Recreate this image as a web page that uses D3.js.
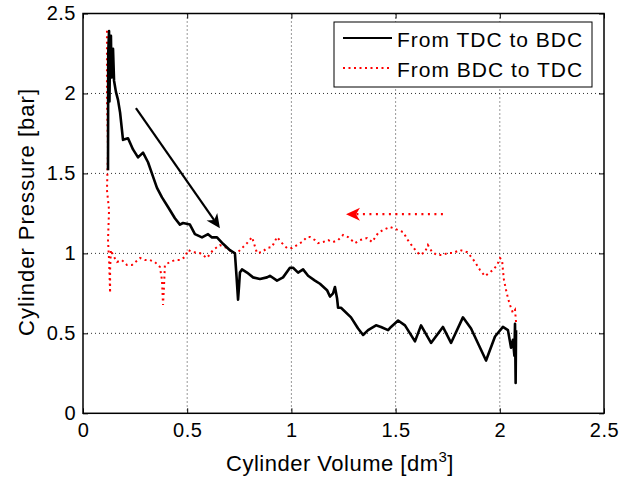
<!DOCTYPE html>
<html><head><meta charset="utf-8">
<script src="https://cdn.jsdelivr.net/npm/d3@7"></script>
<style>
html,body{margin:0;padding:0;background:#fff;}
svg text{font-family:"Liberation Sans",Arial,Helvetica,sans-serif;fill:#000;}
</style></head>
<body>
<svg id="c" width="637" height="483"></svg>
<script>
const xTicks = [0, 0.5, 1, 1.5, 2, 2.5];
const yTicks = [0, 0.5, 1, 1.5, 2, 2.5];
const seriesNames = ["From TDC to BDC", "From BDC to TDC"];
const xLabel = "Cylinder Volume [dm";
const yLabel = "Cylinder Pressure [bar]";

const tdcToBdcVolume = [0.120,0.121,0.125,0.127,0.130,0.134,0.137,0.140,0.144,0.149,0.158,0.168,0.178,0.192,0.216,0.240,0.264,0.288,0.312,0.336,0.355,0.379,0.408,0.441,0.465,0.480,0.513,0.537,0.571,0.600,0.619,0.643,0.672,0.705,0.729,0.737,0.744,0.749,0.753,0.763,0.787,0.816,0.849,0.883,0.897,0.931,0.960,0.993,1.008,1.032,1.056,1.080,1.113,1.137,1.171,1.185,1.200,1.209,1.219,1.224,1.238,1.286,1.320,1.344,1.368,1.406,1.430,1.464,1.478,1.512,1.545,1.593,1.622,1.670,1.727,1.766,1.823,1.862,1.934,1.977,2.015,2.039,2.054,2.063,2.070,2.073,2.076,2.078];
const tdcToBdcPressure = [1.52,2.25,2.39,1.95,2.30,2.36,2.10,2.21,2.28,2.08,2.01,1.96,1.88,1.71,1.72,1.65,1.60,1.63,1.57,1.48,1.41,1.35,1.29,1.22,1.18,1.19,1.18,1.12,1.10,1.12,1.10,1.10,1.06,1.02,1.00,0.85,0.71,0.80,0.88,0.90,0.88,0.85,0.84,0.85,0.86,0.83,0.85,0.91,0.91,0.88,0.90,0.86,0.83,0.81,0.77,0.73,0.75,0.79,0.72,0.66,0.66,0.60,0.53,0.49,0.52,0.55,0.54,0.52,0.54,0.58,0.55,0.45,0.55,0.44,0.54,0.44,0.60,0.53,0.33,0.48,0.54,0.52,0.41,0.46,0.36,0.56,0.19,0.52];

const bdcToTdcVolume = [2.078,2.073,2.063,2.049,2.039,2.030,2.020,2.015,2.011,2.001,1.987,1.967,1.929,1.905,1.881,1.867,1.843,1.809,1.775,1.751,1.723,1.699,1.675,1.655,1.641,1.617,1.603,1.583,1.559,1.536,1.512,1.488,1.473,1.440,1.416,1.387,1.363,1.329,1.305,1.272,1.248,1.224,1.200,1.176,1.152,1.128,1.113,1.089,1.075,1.051,1.027,1.003,0.979,0.955,0.931,0.907,0.883,0.859,0.835,0.811,0.787,0.763,0.739,0.720,0.691,0.657,0.624,0.595,0.561,0.528,0.504,0.489,0.465,0.441,0.417,0.393,0.389,0.384,0.379,0.369,0.345,0.321,0.298,0.274,0.235,0.211,0.187,0.163,0.144,0.134,0.130,0.130,0.125,0.120,0.125,0.115,0.120,0.115,0.115,0.115];
const bdcToTdcPressure = [0.571,0.646,0.627,0.677,0.721,0.771,0.833,0.896,0.958,0.971,0.927,0.896,0.858,0.896,0.946,0.971,1.008,1.021,1.002,1.002,0.990,0.990,1.008,1.052,1.008,0.990,1.008,1.040,1.083,1.133,1.146,1.158,1.165,1.146,1.127,1.071,1.096,1.083,1.064,1.102,1.115,1.083,1.071,1.083,1.071,1.064,1.083,1.102,1.102,1.071,1.052,1.033,1.033,1.064,1.102,1.040,1.033,1.008,1.002,1.102,1.064,1.033,1.002,1.002,1.033,1.052,1.021,0.971,1.002,1.008,1.021,0.977,0.958,0.958,0.946,0.927,0.802,0.677,0.833,0.915,0.946,0.958,0.958,0.971,0.927,0.927,0.958,0.946,0.990,1.021,0.896,0.752,0.958,1.083,1.271,1.396,1.646,1.958,2.208,2.396];

// annotation arrows: [x0, y0, x1, y1] in data units (tail -> tip)
const blackArrow = [0.254, 1.908, 0.657, 1.157];
const redArrow = [1.727, 1.245, 1.262, 1.245];

const svg = d3.select("#c");
const L = 83, R = 604, T = 13.5, B = 413.3;
const x = d3.scaleLinear().domain([0, 2.5]).range([L, R]);
const y = d3.scaleLinear().domain([0, 2.5]).range([B, T]);

// grid
const grid = svg.append("g");
grid.selectAll("line.gx").data(xTicks.slice(1, -1)).enter().append("line")
  .attr("x1", d => x(d)).attr("x2", d => x(d)).attr("y1", T).attr("y2", B)
  .attr("stroke", "#333").attr("stroke-width", 1).attr("stroke-dasharray", "1,3");
grid.selectAll("line.gy").data(yTicks.slice(1, -1)).enter().append("line")
  .attr("y1", d => y(d)).attr("y2", d => y(d)).attr("x1", L).attr("x2", R)
  .attr("stroke", "#333").attr("stroke-width", 1).attr("stroke-dasharray", "1,3");

// axes
const fmt = d => String(d);
const axB = svg.append("g").attr("transform", `translate(0,${B})`)
  .call(d3.axisBottom(x).tickValues(xTicks).tickFormat(fmt).tickSizeInner(-5).tickSizeOuter(0).tickPadding(10));
const axT = svg.append("g").attr("transform", `translate(0,${T})`)
  .call(d3.axisTop(x).tickValues(xTicks).tickFormat("").tickSizeInner(-5).tickSizeOuter(0));
const axL = svg.append("g").attr("transform", `translate(${L},0)`)
  .call(d3.axisLeft(y).tickValues(yTicks).tickFormat(fmt).tickSizeInner(-5).tickSizeOuter(0).tickPadding(7));
const axR = svg.append("g").attr("transform", `translate(${R},0)`)
  .call(d3.axisRight(y).tickValues(yTicks).tickFormat("").tickSizeInner(-5).tickSizeOuter(0));
[axB, axT, axL, axR].forEach(a => {
  a.select(".domain").remove();
  a.selectAll("line").attr("stroke", "#000").attr("stroke-width", 1);
  a.selectAll("text").style("font-size", "20px").style("letter-spacing", "0.5px").attr("fill", "#000");
});
axB.selectAll("text").attr("dy", "0.71em");

// box
svg.append("rect").attr("x", L).attr("y", T).attr("width", R - L).attr("height", B - T)
  .attr("fill", "none").attr("stroke", "#000").attr("stroke-width", 1.5);

const line = d3.line().x(d => x(d[0])).y(d => y(d[1]));
const redData = d3.zip(bdcToTdcVolume, bdcToTdcPressure);
const blackData = d3.zip(tdcToBdcVolume, tdcToBdcPressure);

svg.append("path").datum(redData).attr("d", line)
  .attr("fill", "none").attr("stroke", "#ff0000").attr("stroke-width", 2)
  .attr("stroke-dasharray", "2,3.5");
svg.append("path").datum(blackData).attr("d", line)
  .attr("fill", "none").attr("stroke", "#000").attr("stroke-width", 2.6)
  .attr("stroke-linejoin", "round");

// arrows
function arrow(a, color, dashed, notch) {
  const x0 = x(a[0]), y0 = y(a[1]), x1 = x(a[2]), y1 = y(a[3]);
  const ang = Math.atan2(y1 - y0, x1 - x0);
  const len = 14, hw = 6.5;
  const ux = Math.cos(ang), uy = Math.sin(ang);
  const bx = x1 - ux * len, by = y1 - uy * len;
  const nx = x1 - ux * (len - notch), ny = y1 - uy * (len - notch);
  svg.append("line").attr("x1", x0).attr("y1", y0).attr("x2", nx).attr("y2", ny)
    .attr("stroke", color).attr("stroke-width", 2.2)
    .attr("stroke-dasharray", dashed ? "2,4.5" : null);
  const p = [[x1, y1], [bx - uy * hw, by + ux * hw], [nx, ny], [bx + uy * hw, by - ux * hw]];
  svg.append("path").attr("d", "M" + p.map(q => q.join(",")).join("L") + "Z").attr("fill", color);
}
arrow(blackArrow, "#000", false, 4);
arrow(redArrow, "#ff0000", true, 4);

// legend
const lg = svg.append("g");
lg.append("rect").attr("x", 334).attr("y", 22).attr("width", 258).attr("height", 65)
  .attr("fill", "#fff").attr("stroke", "#000").attr("stroke-width", 1);
const items = [{c: "#000", d: null, w: 2.2}, {c: "#ff0000", d: "2,3.5", w: 2}];
seriesNames.forEach((n, i) => {
  const yy = 38 + i * 30;
  lg.append("line").attr("x1", 343).attr("x2", 392).attr("y1", yy).attr("y2", yy)
    .attr("stroke", items[i].c).attr("stroke-width", items[i].w).attr("stroke-dasharray", items[i].d);
  lg.append("text").attr("x", 397).attr("y", yy + 8.5).style("font-size", "21px")
    .style("letter-spacing", "1px").text(n);
});

// axis labels
const xl = svg.append("text").attr("x", 340).attr("y", 471).attr("text-anchor", "middle")
  .style("font-size", "22px").style("letter-spacing", "0.5px");
xl.append("tspan").text(xLabel);
xl.append("tspan").attr("dy", -9).style("font-size", "15px").text("3");
xl.append("tspan").attr("dy", 9).text("]");
svg.append("text").attr("transform", "translate(34,212) rotate(-90)").attr("text-anchor", "middle")
  .style("font-size", "22px").style("letter-spacing", "1px").text(yLabel);
</script>
</body></html>
